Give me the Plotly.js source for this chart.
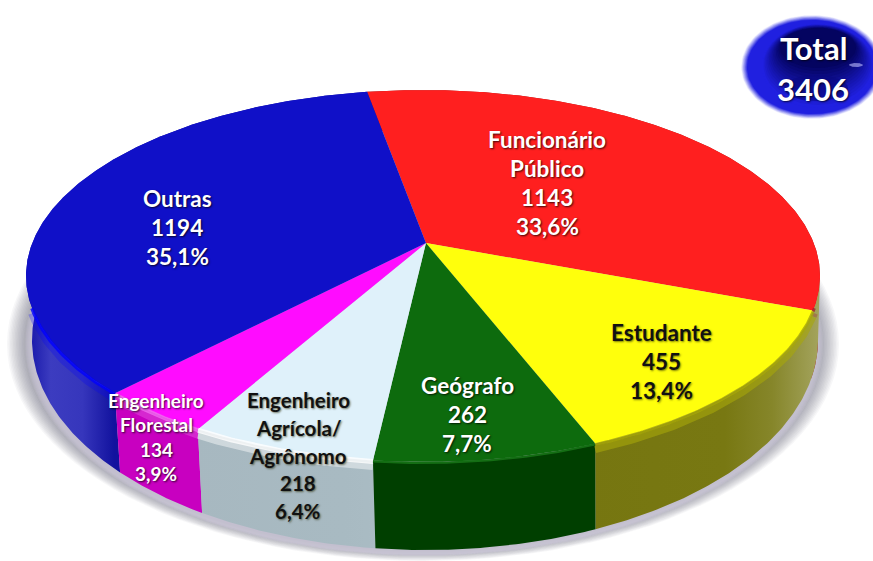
<!DOCTYPE html>
<html><head><meta charset="utf-8">
<script src="https://cdn.plot.ly/plotly-3.0.1.min.js"></script>
<style>html,body{margin:0;padding:0;background:#fff}#c{width:873px;height:561px}</style>
</head><body><div id="c"></div>
<script>
const categories = ['Funcionário Público','Estudante','Geógrafo','Engenheiro Agrícola/Agrônomo','Engenheiro Florestal','Outras'];
const values = [1143,455,262,218,134,1194];
const percents = ['33,6%','13,4%','7,7%','6,4%','3,9%','35,1%'];
const labelLines = [['Funcionário','Público','1143','33,6%'],['Estudante','455','13,4%'],['Geógrafo','262','7,7%'],['Engenheiro','Agrícola/','Agrônomo','218','6,4%'],['Engenheiro','Florestal','134','3,9%'],['Outras','1194','35,1%']];
const totalLines = ['Total','3406'];
const topColors = ['#ff1f1f','#ffff0c','#0d6b0d','#dff1fa','#ff0cff','#1010c8'];
const bevelColors = ['#a02030','#a8a80a','#1a7a1a','#ffffff','#f070f0','#0000ff'];
const bevelWidths = [3,3,2,5,4,3];
const softOpacity = [0.3,0.6,0,0.45,0.35,0.25];
const wallScales = [
  [[0,'#a01818'],[1,'#a01818']],
  [[0,'#6e6e08'],[0.88,'#787812'],[0.94,'#86862a'],[1,'#a4a45e']],
  [[0,'#003f00'],[1,'#003f00']],
  [[0,'#a6b6be'],[0.4,'#a8bac2'],[1,'#bcd0d8']],
  [[0,'#c800c0'],[1,'#c800c0']],
  [[0,'#1414a8'],[0.03,'#3c3cc0'],[0.07,'#3636bc'],[0.11,'#12129e'],[1,'#12129e']]
];
const wallBackExtend = [0,10,0,0,0,0];
const labelPos = [[547,139,29],[661,332,29],[467,385,29],[298,400,27.8],[156,400,24.5],[177,198,29]];
const labelSize = [22.5,22.5,22.5,20.5,19,22.5];
const labelColor = ['#fff','#111','#fff','#111','#fff','#fff'];

const T={cx:423,cy:276,a:397,b:186}, B={cx:425,cy:340,a:393,b:210}, k=-0.177, kx=0.0076, startDeg=-10.1;
const total=values.reduce((s,v)=>s+v,0);
function persp(d){const r=d*Math.PI/180,u0=Math.sin(r),v0=-Math.cos(r),p=1+kx*u0,
  u=(u0+kx)/p,v=v0*Math.sqrt(1-kx*kx)/p,q=1+k*v;
  return [u*Math.sqrt(1-k*k)/q,(v+k)/q];}
const apex=[T.cx+T.a*kx*Math.sqrt(1-k*k),T.cy+T.b*k];
function arc(e,d0,d1){const p=[],n=Math.max(8,Math.ceil(d1-d0)*2);
  for(let i=0;i<=n;i++){const m=persp(d0+(d1-d0)*i/n);p.push([e.cx+e.a*m[0],e.cy+e.b*m[1],m[1]]);}return p;}
function ell(cx,cy,a,b){const x=[],y=[];for(let i=0;i<=120;i++){const t=i/120*2*Math.PI;x.push(cx+a*Math.cos(t));y.push(cy+b*Math.sin(t));}return {x,y};}
function blob(cx,cy,a,b,color){const e=ell(cx,cy,a,b);return {type:'scatter',mode:'lines',x:e.x,y:e.y,fill:'toself',fillcolor:color,line:{width:0},hoverinfo:'skip',showlegend:false};}
const traces=[];
// soft shadow
for(let i=0;i<16;i++){traces.push(blob(423,344,416-i*1.5,217-i*0.7,'rgba(70,60,90,0.045)'));}
for(let i=0;i<6;i++){traces.push(blob(424,344,399-i,212-i*0.3,'rgba(205,198,215,0.25)'));}
// walls
let ang=startDeg; const spans=[];
values.forEach((v,i)=>{const d=v/total*360;spans.push([ang,ang+d]);ang+=d;});
[0,5,4,1,3,2].forEach(i=>{const s=spans[i],a0=s[0]-wallBackExtend[i],t=arc(T,a0,s[1]),b=arc(B,a0,s[1]).reverse(),p=t.concat(b);p.push(t[0]);
  traces.push({type:'scatter',mode:'lines',name:categories[i],x:p.map(q=>q[0]),y:p.map(q=>q[1]),fill:'toself',
    fillgradient:{type:'horizontal',colorscale:wallScales[i],start:27,stop:820},line:{width:0},hoverinfo:'skip',showlegend:false});});
// soft shading under the rim
spans.forEach((s,i)=>{const a=arc(T,s[0],s[1]).filter(q=>q[2]>0.16);if(!a.length||!softOpacity[i])return;
  traces.push({type:'scatter',mode:'lines',x:a.map(q=>q[0]),y:a.map(q=>q[1]+6),line:{color:bevelColors[i],width:7},opacity:softOpacity[i],hoverinfo:'skip',showlegend:false});});
// tops
spans.forEach((s,i)=>{const a=arc(T,s[0],s[1]),x=[apex[0],...a.map(q=>q[0]),apex[0]],y=[apex[1],...a.map(q=>q[1]),apex[1]];
  traces.push({type:'scatter',mode:'lines',name:categories[i],x,y,fill:'toself',fillcolor:topColors[i],line:{width:0},
    text:percents[i],hoverinfo:'name+text',showlegend:false});});
// bevel along the front rim
spans.forEach((s,i)=>{const a=arc(T,s[0],s[1]).filter(q=>q[2]>0.16);if(!a.length)return;
  traces.push({type:'scatter',mode:'lines',x:a.map(q=>q[0]),y:a.map(q=>q[1]+1),line:{color:bevelColors[i],width:bevelWidths[i]},opacity:0.8,hoverinfo:'skip',showlegend:false});});
// total badge
function mix(c1,c2,f){return 'rgb('+c1.map((c,i)=>Math.round(c+(c2[i]-c)*f)).join(',')+')';}
for(let i=0;i<10;i++){const f=i/9;traces.push(blob(812,67,71-f*6,52-f*5,mix([245,245,255],[32,32,224],f)));}
for(let i=0;i<14;i++){const f=i/13;traces.push(blob(818,66-f*18,56-f*18,42-f*22,mix([32,32,224],[4,4,96],f)));}
traces.push(blob(816,88,32,13,'rgba(10,10,130,0.55)'));
traces.push(blob(856,65,7,2,'rgba(190,190,255,0.6)'));
const annotations=[];
labelLines.forEach((lines,i)=>{lines.forEach((t,j)=>{annotations.push({x:labelPos[i][0],y:labelPos[i][1]+j*labelPos[i][2],xref:'x',yref:'y',text:'<b>'+t+'</b>',showarrow:false,
  font:{family:'Lato, "Open Sans", sans-serif',size:labelSize[i],color:labelColor[i],shadow:labelColor[i]=='#fff'?'1px 1px 2px rgba(0,0,0,.75)':'1px 1px 2px rgba(40,40,0,.6)'}});});});
totalLines.forEach((t,j)=>annotations.push({x:813,y:48+j*41,xref:'x',yref:'y',text:'<b>'+t+'</b>',showarrow:false,
  font:{family:'Lato, "Open Sans", sans-serif',size:31,color:'#fff',shadow:'1px 1px 2px rgba(0,0,0,.7)'}}));
const layout={width:873,height:561,margin:{l:0,r:0,t:0,b:0},paper_bgcolor:'#fff',plot_bgcolor:'#fff',showlegend:false,
  xaxis:{range:[0,873],visible:false,fixedrange:true},yaxis:{range:[561,0],visible:false,fixedrange:true},annotations};
Plotly.newPlot('c',traces,layout,{displayModeBar:false});
</script></body></html>
